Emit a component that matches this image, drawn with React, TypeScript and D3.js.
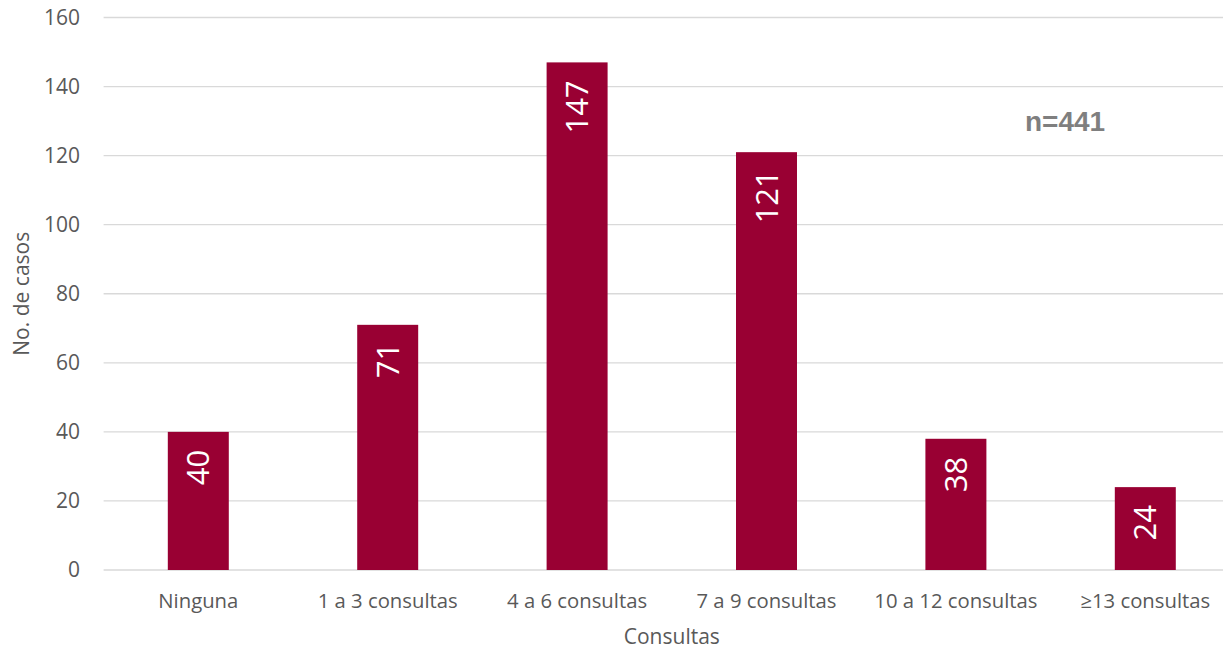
import React from "react";
import * as d3 from "d3";

const categories = ["Ninguna", "1 a 3 consultas", "4 a 6 consultas", "7 a 9 consultas", "10 a 12 consultas", "≥13 consultas"];
const values = [40, 71, 147, 121, 38, 24];
const yTicks = [0, 20, 40, 60, 80, 100, 120, 140, 160];
const annotation = "n=441";
const xTitle = "Consultas";
const yTitle = "No. de casos";

const W = 1223;
const H = 649;
const left = 103.6;
const right = 1240;
const top = 17.5;
const bottom = 570;
const font = "'Open Sans', sans-serif";
const textColor = "#595959";

export default function App() {
  const x = d3.scaleBand<string>().domain(categories).range([left, right]).paddingInner(0.678).paddingOuter(0.339);
  const y = d3.scaleLinear().domain([0, 160]).range([bottom, top]);
  return (
    <svg width={W} height={H} style={{ position: "absolute", left: 0, top: 0, background: "#fff" }}>
      {yTicks.map((t) => (
        <g key={t}>
          <line x1={left} x2={right} y1={y(t)} y2={y(t)} stroke="#d9d9d9" strokeWidth={1.3} />
          <text x={80} y={y(t)} dy="0.35em" textAnchor="end" fontFamily={font} fontSize={21} fill={textColor}>
            {t}
          </text>
        </g>
      ))}
      {categories.map((c, i) => {
        const bx = x(c)!;
        const bw = x.bandwidth();
        const cx = bx + bw / 2;
        const yt = y(values[i]);
        return (
          <g key={c}>
            <rect x={bx} y={yt} width={bw} height={bottom - yt} fill="#990033" />
            <text
              transform={`translate(${cx},${yt + 18}) rotate(-90)`}
              textAnchor="end"
              dy="0.36em"
              fontFamily={font}
              fontSize={31}
              fill="#fff"
            >
              {values[i]}
            </text>
            <text x={cx} y={608} textAnchor="middle" fontFamily={font} fontSize={20.3} fill={textColor}>
              {c}
            </text>
          </g>
        );
      })}
      <text x={(left + right) / 2} y={644} textAnchor="middle" fontFamily={font} fontSize={21} fill={textColor}>
        {xTitle}
      </text>
      <text
        transform={`translate(29,${(top + bottom) / 2}) rotate(-90)`}
        textAnchor="middle"
        fontFamily={font}
        fontSize={21}
        fill={textColor}
      >
        {yTitle}
      </text>
      <text x={1025} y={131} fontFamily="'Liberation Sans', Arial, sans-serif" fontWeight="bold" fontSize={28} fill="#7f7f7f">
        {annotation}
      </text>
    </svg>
  );
}
